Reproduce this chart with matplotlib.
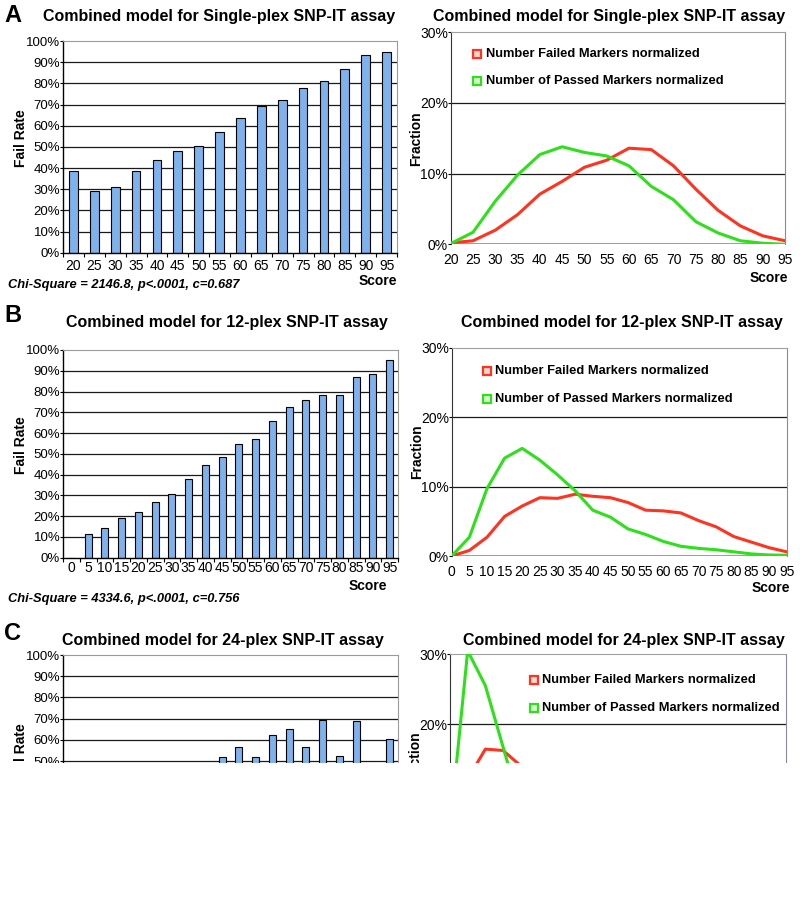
import numpy as np
import matplotlib
matplotlib.use("Agg")
import matplotlib.pyplot as plt
from matplotlib.patches import Rectangle

plt.rcParams['font.family'] = ['Liberation Sans', 'DejaVu Sans']

# ---- data ----
scores_a = [20, 25, 30, 35, 40, 45, 50, 55, 60, 65, 70, 75, 80, 85, 90, 95]
fail_a = [38.5, 29, 31, 38.7, 44, 48, 50.5, 57, 63.5, 69.5, 72, 78, 81, 87, 93.5, 95]
failed_norm_a = [0.2, 0.5, 2.0, 4.2, 7.1, 8.9, 10.9, 11.9, 13.6, 13.4, 11.1, 7.8, 4.8, 2.6, 1.2, 0.5]
passed_norm_a = [0.1, 1.7, 6.1, 9.8, 12.7, 13.8, 13.0, 12.5, 11.1, 8.2, 6.3, 3.2, 1.6, 0.5, 0.15, 0.0]

scores_b = [0, 5, 10, 15, 20, 25, 30, 35, 40, 45, 50, 55, 60, 65, 70, 75, 80, 85, 90, 95]
fail_b = [0, 11.6, 14.3, 18.9, 22, 26.8, 30.7, 37.9, 44.6, 48.3, 54.7, 57.3, 65.8, 72.7,
          75.9, 78.2, 78.2, 87.2, 88.6, 95]
failed_norm_b = [0.0, 0.8, 2.7, 5.7, 7.2, 8.4, 8.3, 8.9, 8.6, 8.4, 7.7, 6.6, 6.5, 6.2,
                 5.1, 4.2, 2.8, 2.0, 1.2, 0.6]
passed_norm_b = [0.0, 2.7, 9.7, 14.1, 15.5, 13.8, 11.7, 9.4, 6.6, 5.6, 3.9, 3.1, 2.1, 1.4,
                 1.1, 0.9, 0.6, 0.3, 0.15, 0.1]

# panel C is cropped in the source; values below the crop are unknown (nan)
nan = np.nan
scores_c = scores_b
fail_c = [nan, nan, nan, nan, nan, nan, nan, nan, nan, 51.7, 56.4, 51.7, 62.2, 65.0,
          56.4, 69.3, 52.5, 68.8, nan, 60.2]
failed_norm_c = [nan, 12.1, 16.4, 16.2, 14.0] + [nan] * 15
passed_norm_c = [5.0, 30.5, 25.5, 16.7, 8.0] + [nan] * 15

titles = {
    'A': "Combined model for Single-plex SNP-IT assay",
    'B': "Combined model for 12-plex SNP-IT assay",
    'C': "Combined model for 24-plex SNP-IT assay",
}
chi_text = {
    'A': "Chi-Square = 2146.8, p<.0001, c=0.687",
    'B': "Chi-Square = 4334.6, p<.0001, c=0.756",
}
legend_labels = ["Number Failed Markers normalized", "Number of Passed Markers normalized"]

W, H = 800, 919
fig = plt.figure(figsize=(W / 100, H / 100), dpi=100)

BAR = '#7db2ec'
RED = '#ff3320'
GREEN = '#2ee01a'
TICKFS = 9.5


def px_axes(left, top, right, bottom):
    return fig.add_axes([left / W, 1 - bottom / H, (right - left) / W, (bottom - top) / H])


def fig_text(x, y, s, **kw):
    fig.text(x / W, 1 - y / H, s, **kw)


def bar_panel(ax, scores, vals, xpad):
    n = len(scores)
    pos = np.arange(n)
    ax.bar(pos, vals, width=0.42, color=BAR, edgecolor='black', linewidth=0.8, zorder=2)
    ax.set_xlim(-0.5, n - 0.5)
    ax.set_ylim(0, 100)
    ax.set_yticks(np.arange(0, 101, 10))
    ax.set_yticklabels([f"{v}%" for v in range(0, 101, 10)], fontsize=TICKFS)
    ax.set_xticks(pos)
    ax.set_xticklabels([str(s) for s in scores], fontsize=TICKFS + 0.5)
    ax.set_xticks(np.arange(n + 1) - 0.5, minor=True)
    ax.tick_params(axis='x', which='major', length=0, pad=xpad)
    ax.tick_params(axis='x', which='minor', length=3, width=0.8)
    ax.tick_params(axis='y', length=2, width=0.8, pad=0)
    for y in range(10, 100, 10):
        ax.axhline(y, color='#1a1a1a', lw=0.9, zorder=1)
    ax.spines['top'].set_color('#9a9a9a')
    ax.spines['top'].set_linestyle((0, (2, 1)))
    ax.spines['right'].set_color('#9a9a9a')
    ax.spines['left'].set_linewidth(1.0)
    ax.spines['bottom'].set_linewidth(1.0)
    ax.set_ylabel("Fail Rate", fontsize=10, fontweight='bold')
    ax.yaxis.set_label_coords(-0.105, 0.54)


def line_panel(ax, scores, failed, passed, leg_pos, xpad):
    ax.plot(scores, failed, color=RED, lw=2.2, zorder=3)
    ax.plot(scores, passed, color=GREEN, lw=2.2, zorder=3)
    ax.axhline(0, color=GREEN, lw=2.0, zorder=2)
    ax.set_xlim(scores[0], scores[-1])
    ax.set_ylim(0, 30)
    ax.set_yticks([0, 10, 20, 30])
    ax.set_yticklabels(["0%", "10%", "20%", "30%"], fontsize=TICKFS + 0.5)
    ax.set_xticks(scores)
    ax.set_xticklabels([str(s) for s in scores], fontsize=TICKFS + 0.5)
    ax.tick_params(axis='x', length=0, pad=xpad)
    ax.tick_params(axis='y', length=2, pad=0)
    for y in (10, 20):
        ax.axhline(y, color='#1a1a1a', lw=0.9, zorder=1)
    ax.spines['top'].set_color('#a0a0a0')
    ax.spines['top'].set_linestyle((0, (2, 1)))
    ax.spines['right'].set_color('#8a8a9a')
    ax.spines['left'].set_color('#333333')
    ax.spines['bottom'].set_visible(False)
    ax.set_ylabel("Fraction", fontsize=10, fontweight='bold')
    ax.yaxis.set_label_coords(-0.083, 0.5)
    # legend: small square markers with label text
    lx, ly0, ly1 = leg_pos
    for ly, col, fc, lab in ((ly0, RED, '#ffd8d0', legend_labels[0]),
                             (ly1, GREEN, '#d8ffd0', legend_labels[1])):
        ax.plot([lx], [ly], marker='s', ms=5.5, mfc=fc, mec=col, mew=1.6,
                transform=ax.transAxes, clip_on=False)
        ax.text(lx + 0.025, ly, lab, transform=ax.transAxes, fontsize=9.3,
                fontweight='bold', va='center', ha='left')


# ---- panel A ----
axA1 = px_axes(63, 41, 397, 252.7)
bar_panel(axA1, scores_a, fail_a, xpad=4.5)
axA2 = px_axes(450.7, 32.3, 785, 244.3)
line_panel(axA2, scores_a, failed_norm_a, passed_norm_a, (0.08, 0.898, 0.771), xpad=6)

# ---- panel B ----
axB1 = px_axes(63, 350, 398, 557.7)
bar_panel(axB1, scores_b, fail_b, xpad=2.5)
axB2 = px_axes(451.7, 347.7, 786.7, 556)
line_panel(axB2, scores_b, failed_norm_b, passed_norm_b, (0.105, 0.886, 0.752), xpad=6.5)

# ---- panel C (cropped at the bottom in the source) ----
axC1 = px_axes(63, 655, 398, 867)
bar_panel(axC1, scores_c, fail_c, xpad=2.5)
axC2 = px_axes(450, 654.3, 786, 863.4)
line_panel(axC2, scores_c, failed_norm_c, passed_norm_c, (0.25, 0.876, 0.743), xpad=6.5)

# titles, panel letters, annotations
for letter, ypix, x1, x2 in (('A', 16, 219, 609), ('B', 323, 227, 622), ('C', 641, 223, 624)):
    fig_text(x1, ypix, titles[letter], fontsize=11.5, fontweight='bold', ha='center', va='center')
    fig_text(x2, ypix, titles[letter], fontsize=11.5, fontweight='bold', ha='center', va='center')
fig_text(4, 16, 'A', fontsize=17, fontweight='bold', ha='left', va='center')
fig_text(4, 316, 'B', fontsize=17, fontweight='bold', ha='left', va='center')
fig_text(4, 633, 'C', fontsize=17, fontweight='bold', ha='left', va='center')

fig_text(8, 285, chi_text['A'], fontsize=9.3, fontweight='bold', style='italic', va='center')
fig_text(8, 599, chi_text['B'], fontsize=9.3, fontweight='bold', style='italic', va='center')

for xr, yy in ((397, 281), (788, 278), (387, 586), (790, 588)):
    fig_text(xr, yy, "Score", fontsize=10, fontweight='bold', ha='right', va='center')

# the source figure is cropped just below the top of panel C
fig.patches.append(Rectangle((0, 0), 1, (H - 763) / H, transform=fig.transFigure,
                             facecolor='white', edgecolor='none', zorder=100))

fig.savefig("out.png", dpi=100, facecolor='white')
